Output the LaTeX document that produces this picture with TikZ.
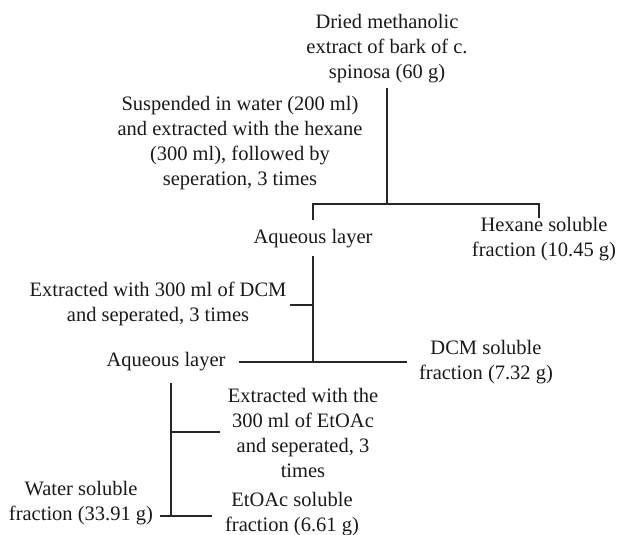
\documentclass[tikz,border=0pt]{standalone}
\usepackage{fontspec}
\setmainfont{Liberation Serif}
\newcommand\myfs{\fontsize{20.5}{25}\selectfont}
\begin{document}
\begin{tikzpicture}[x=1pt,y=-1pt,
  txt/.style={align=center, font=\myfs, inner sep=0pt, text=black!90},
  ln/.style={line width=1.1pt, draw=black!85}]
\useasboundingbox (0,0) rectangle (618,535);
% text nodes
\node[txt] (top) at (387,49) {Dried methanolic\\extract of bark of c.\\spinosa (60 g)};
\node[txt] (susp) at (240,143) {Suspended in water (200 ml)\\and extracted with the hexane\\(300 ml), followed by\\seperation, 3 times};
\node[txt] (aq1) at (313,239) {Aqueous layer};
\node[txt] (hex) at (544,239) {Hexane soluble\\fraction (10.45 g)};
\node[txt] (dcmproc) at (158,304) {Extracted with 300 ml of DCM\\and seperated, 3 times};
\node[txt] (aq2) at (166,362) {Aqueous layer};
\node[txt] (dcmfr) at (486,362) {DCM soluble\\fraction (7.32 g)};
\node[txt] (etproc) at (303,433) {Extracted with the\\300 ml of EtOAc\\and seperated, 3\\times};
\node[txt] (water) at (81,503) {Water soluble\\fraction (33.91 g)};
\node[txt] (etfr) at (292,514) {EtOAc soluble\\fraction (6.61 g)};
% junction coordinates
\coordinate (topend) at (387,88);
\coordinate (j1) at (387,204);
\coordinate (j1l) at (313,204);
\coordinate (j1r) at (539,204);
\coordinate (aq1top) at (313,220);
\coordinate (hextop) at (539,218);
\coordinate (aq1bot) at (313,256);
\coordinate (j2) at (313,305);
\coordinate (dcmend) at (290,305);
\coordinate (j3) at (313,362);
\coordinate (aq2end) at (239,362);
\coordinate (dcmfrend) at (407,362);
\coordinate (aq2bot) at (171,383);
\coordinate (j4) at (171,432);
\coordinate (etend) at (220,432);
\coordinate (j5) at (171,516);
\coordinate (waterend) at (160,516);
\coordinate (etfrend) at (212,516);
% connectors
\draw[ln] (topend) -- (j1);
\draw[ln] (aq1top) -- (j1l) -- (j1r) -- (hextop);
\draw[ln] (aq1bot) -- (j3);
\draw[ln] (dcmend) -- (j2);
\draw[ln] (aq2end) -- (dcmfrend);
\draw[ln] (aq2bot) -- (j5);
\draw[ln] (j4) -- (etend);
\draw[ln] (waterend) -- (etfrend);
\end{tikzpicture}
\end{document}
